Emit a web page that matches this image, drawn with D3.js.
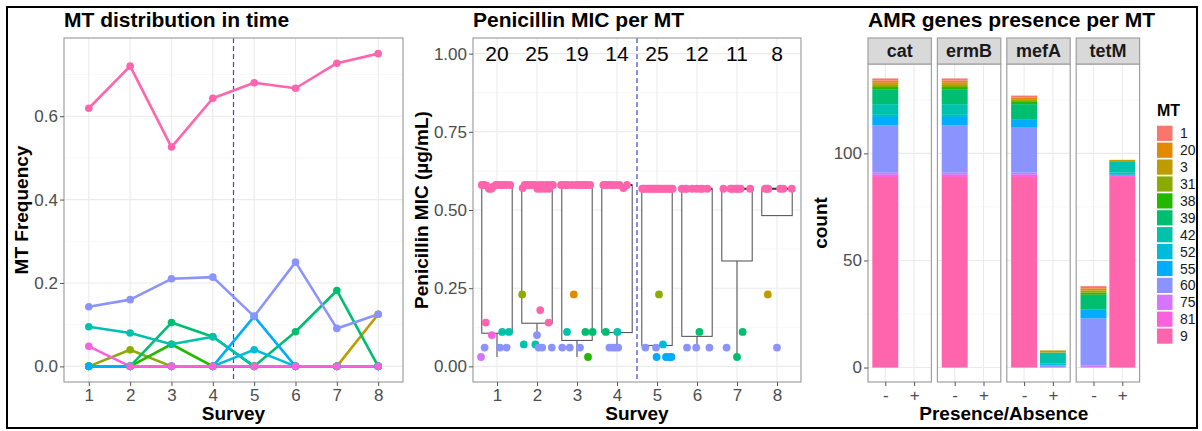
<!DOCTYPE html>
<html><head><meta charset="utf-8">
<script src="https://cdn.jsdelivr.net/npm/d3@7"></script>
<style>body{margin:0;background:#fff} text{font-family:"Liberation Sans",Arial,Helvetica,sans-serif}</style>
</head><body><svg id="c" width="1202" height="431"></svg>
<script>
// ---------- shared ----------
const surveys = [1,2,3,4,5,6,7,8];
const mtLevels = ["1","20","3","31","38","39","42","52","55","60","75","81","9"];
const mtColors = ["#F8766D","#E18A00","#BE9C00","#8CAB00","#24B700","#00BE70","#00C1AB","#00BBDA","#00ACFC","#8B93FF","#D575FE","#F962DD","#FF65AC"];

// ---------- panel 1: MT frequency per survey ----------
const freqMT = ["3","31","38","39","42","52","55","60","81","9"];
const freq3  = [0,0,0,0,0,0,0,0.125];
const freq31 = [0,0.04,0,0,0,0,0,0];
const freq38 = [0,0,0.053,0,0,0,0,0];
const freq39 = [0,0,0.105,0.071,0,0.083,0.182,0];
const freq42 = [0.095,0.08,0.053,0.071,0,0,0,0];
const freq52 = [0,0,0,0,0.04,0,0,0];
const freq55 = [0,0,0,0,0.12,0,0,0];
const freq60 = [0.143,0.16,0.21,0.214,0.12,0.25,0.091,0.125];
const freq81 = [0.048,0,0,0,0,0,0,0];
const freq9  = [0.619,0.72,0.526,0.643,0.68,0.667,0.727,0.75];
const freqTicks = [0,0.2,0.4,0.6];

// ---------- panel 2: penicillin MIC ----------
const nLabels = [20,25,19,14,25,12,11,8];
const micTicks = [0,0.25,0.5,0.75,1.0];
const boxLow  = [0.03,0.10,0.03,0.06,0.06,0.06,0.03,0.482];
const boxQ1   = [0.106,0.138,0.083,0.108,0.067,0.096,0.337,0.482];
const boxMed  = [0.58,0.575,0.58,0.58,0.568,0.568,0.568,0.568];
const boxQ3   = [0.58,0.575,0.58,0.58,0.568,0.568,0.568,0.568];
// low points: [jitter offset, MIC, MT]
const micS1 = [[-0.40,0.03,"75"],[-0.31,0.06,"60"],[-0.28,0.14,"9"],[-0.13,0.10,"81"],[0.075,0.06,"60"],[0.13,0.11,"42"],[0.24,0.06,"60"],[0.30,0.11,"42"]];
const micS2 = [[-0.37,0.23,"31"],[-0.33,0.07,"42"],[-0.04,0.07,"42"],[0,0.10,"60"],[0.08,0.18,"9"],[0.04,0.06,"60"],[0.13,0.06,"60"],[0.29,0.14,"9"],[0.37,0.06,"60"]];
const micS3 = [[-0.37,0.06,"60"],[-0.25,0.11,"42"],[-0.18,0.06,"60"],[-0.08,0.23,"20"],[0.075,0.06,"60"],[0.21,0.11,"39"],[0.275,0.03,"38"],[0.39,0.11,"39"]];
const micS4 = [[-0.28,0.11,"39"],[-0.19,0.06,"60"],[-0.11,0.06,"60"],[-0.04,0.06,"60"],[0.01,0.11,"42"],[0.03,0.06,"60"]];
const micS5 = [[-0.29,0.06,"60"],[-0.025,0.06,"60"],[-0.01,0.03,"55"],[0.05,0.23,"31"],[0.15,0.07,"52"],[0.225,0.03,"55"],[0.31,0.03,"55"],[0.36,0.03,"55"]];
const micS6 = [[-0.25,0.06,"60"],[-0.02,0.06,"60"],[0.06,0.11,"39"],[0.31,0.06,"60"]];
const micS7 = [[-0.26,0.06,"60"],[0,0.03,"39"],[0.14,0.11,"39"]];
const micS8 = [[-0.23,0.23,"3"],[0,0.06,"60"]];
// high (MT 9) points: [jitter offset, MIC]
const topS1 = [[-0.38,0.58],[-0.32,0.58],[-0.26,0.578],[-0.2,0.568],[-0.14,0.568],[-0.09,0.575],[-0.03,0.58],[0.03,0.58],[0.1,0.58],[0.17,0.58],[0.25,0.58],[0.33,0.58]];
const topS2 = [[-0.36,0.57],[-0.31,0.58],[-0.26,0.58],[-0.2,0.58],[-0.15,0.58],[-0.1,0.58],[-0.05,0.58],[0.01,0.568],[0.06,0.58],[0.1,0.568],[0.15,0.58],[0.2,0.568],[0.25,0.58],[0.3,0.568],[0.35,0.58],[0.4,0.58]];
const topS3 = [[-0.4,0.58],[-0.34,0.58],[-0.28,0.58],[-0.22,0.58],[-0.12,0.58],[-0.02,0.58],[0.04,0.58],[0.11,0.58],[0.18,0.58],[0.25,0.58],[0.33,0.58]];
const topS4 = [[-0.34,0.58],[-0.27,0.58],[-0.2,0.58],[-0.12,0.58],[-0.03,0.58],[0.06,0.58],[0.16,0.57],[0.25,0.58]];
const topS5 = [[-0.37,0.568],[-0.33,0.568],[-0.28,0.568],[-0.22,0.568],[-0.18,0.568],[-0.13,0.568],[-0.08,0.568],[-0.04,0.568],[0.01,0.568],[0.06,0.568],[0.1,0.568],[0.15,0.568],[0.2,0.568],[0.25,0.568],[0.3,0.568],[0.34,0.568],[0.39,0.568]];
const topS6 = [[-0.38,0.568],[-0.3,0.568],[-0.26,0.568],[-0.12,0.568],[-0.01,0.568],[0.08,0.568],[0.14,0.568],[0.26,0.568]];
const topS7 = [[-0.34,0.568],[-0.16,0.568],[-0.13,0.568],[-0.05,0.568],[0,0.568],[0.04,0.568],[0.09,0.568],[0.33,0.568]];
const topS8 = [[-0.3,0.568],[-0.25,0.568],[-0.22,0.568],[0.08,0.568],[0.16,0.568],[0.37,0.568]];

// ---------- panel 3: AMR genes ----------
const genes = ["cat","ermB","mefA","tetM"];
const presence = ["-","+"];
const countTicks = [0,50,100];
// counts in mtLevels order
const catNeg  = [1,1,1,1,1,7,5,1,4,22,1,1,89];
const catPos  = [0,0,0,0,0,0,0,0,0,0,0,0,0];
const ermBNeg = [1,1,1,1,1,7,5,1,4,22,1,1,89];
const ermBPos = [0,0,0,0,0,0,0,0,0,0,0,0,0];
const mefANeg = [1,1,0,1,1,7,0,0,4,21,1,1,89];
const mefAPos = [0,0,1,0,0,0,5,1,0,1,0,0,0];
const tetMNeg = [1,1,0,1,1,7,0,0,4,22,1,0,0];
const tetMPos = [0,0,1,0,0,0,5,1,0,0,0,1,89];

// ================= drawing =================
const svg = d3.select("#c");
svg.append("rect").attr("width",1202).attr("height",431).attr("fill","#fff");
const color = d3.scaleOrdinal().domain(mtLevels).range(mtColors);
const TICK = "#4D4D4D", GRIDMAJ = "#EBEBEB", GRIDMIN = "#F4F4F4", BORDER = "#A0A0A0";

function styleAxis(g, size){
  g.select(".domain").remove();
  g.selectAll(".tick line").attr("stroke","#555").attr("stroke-width",1);
  g.selectAll(".tick text").attr("fill",TICK).attr("font-size",size||17)
   .attr("font-family",'"Liberation Sans",Arial,sans-serif');
}
function hGrid(g, y, vals, x0, x1, col, w){
  g.selectAll(null).data(vals).enter().append("line")
   .attr("x1",x0).attr("x2",x1).attr("y1",d=>y(d)).attr("y2",d=>y(d))
   .attr("stroke",col).attr("stroke-width",w);
}
function vGrid(g, x, vals, y0, y1, col, w){
  g.selectAll(null).data(vals).enter().append("line")
   .attr("y1",y0).attr("y2",y1).attr("x1",d=>x(d)).attr("x2",d=>x(d))
   .attr("stroke",col).attr("stroke-width",w);
}
function title(txt, x){
  svg.append("text").attr("x",x).attr("y",27).attr("font-size",21).attr("font-weight","bold")
   .attr("fill","#000").text(txt);
}
function xTitle(txt, cx){
  svg.append("text").attr("x",cx).attr("y",420).attr("text-anchor","middle")
   .attr("font-size",19).attr("font-weight","bold").attr("fill","#000").text(txt);
}
function yTitle(txt, cx, cy){
  svg.append("text").attr("transform",`translate(${cx},${cy}) rotate(-90)`)
   .attr("text-anchor","middle").attr("dy","0.35em")
   .attr("font-size",19).attr("font-weight","bold").attr("fill","#000").text(txt);
}

// ---------- Panel 1 ----------
{
  const x0=64,x1=403,y0=38,y1=382;
  const x = d3.scaleLinear().domain([0.4,8.6]).range([x0,x1]);
  const y = d3.scaleLinear().domain([-0.0375,0.7875]).range([y1,y0]);
  const g = svg.append("g");
  hGrid(g,y,[0.1,0.3,0.5,0.7],x0,x1,GRIDMIN,0.7);
  hGrid(g,y,freqTicks,x0,x1,GRIDMAJ,1.1);
  vGrid(g,x,surveys,y0,y1,GRIDMAJ,1.1);
  g.append("line").attr("x1",x(4.5)).attr("x2",x(4.5)).attr("y1",y0).attr("y2",y1)
   .attr("stroke","#3347E0").attr("stroke-width",1.2).attr("stroke-dasharray","5,3");
  const seriesArr = [freq3,freq31,freq38,freq39,freq42,freq52,freq55,freq60,freq81,freq9];
  const series = freqMT.map((mt,i)=>({mt, vals: seriesArr[i].map((v,j)=>({s:surveys[j], v}))}));
  const line = d3.line().x(d=>x(d.s)).y(d=>y(d.v));
  g.selectAll(".ln").data(series).enter().append("path")
   .attr("d",d=>line(d.vals)).attr("fill","none").attr("stroke",d=>color(d.mt))
   .attr("stroke-width",2.6).attr("stroke-linejoin","round");
  series.forEach(sr=>{
    g.selectAll(null).data(sr.vals).enter().append("circle")
     .attr("cx",d=>x(d.s)).attr("cy",d=>y(d.v)).attr("r",3.8).attr("fill",color(sr.mt));
  });
  g.append("rect").attr("x",x0).attr("y",y0).attr("width",x1-x0).attr("height",y1-y0)
   .attr("fill","none").attr("stroke",BORDER).attr("stroke-width",1.2);
  const ax = svg.append("g").attr("transform",`translate(0,${y1})`)
   .call(d3.axisBottom(x).tickValues(surveys).tickFormat(d3.format("d")).tickSize(4).tickPadding(3));
  styleAxis(ax);
  const ay = svg.append("g").attr("transform",`translate(${x0},0)`)
   .call(d3.axisLeft(y).tickValues(freqTicks).tickFormat(d3.format(".1f")).tickSize(4).tickPadding(2));
  styleAxis(ay);
  title("MT distribution in time", 64);
  xTitle("Survey",(x0+x1)/2);
  yTitle("MT Frequency",21,(y0+y1)/2);
}

// ---------- Panel 2 ----------
{
  const x0=473,x1=801,y0=38,y1=382;
  const x = d3.scaleLinear().domain([0.4,8.6]).range([x0,x1]);
  const y = d3.scaleLinear().domain([-0.05,1.05]).range([y1,y0]);
  const g = svg.append("g");
  hGrid(g,y,[0.125,0.375,0.625,0.875],x0,x1,GRIDMIN,0.7);
  hGrid(g,y,micTicks,x0,x1,GRIDMAJ,1.1);
  vGrid(g,x,surveys,y0,y1,GRIDMAJ,1.1);
  g.append("line").attr("x1",x(4.5)).attr("x2",x(4.5)).attr("y1",y0).attr("y2",y1)
   .attr("stroke","#3347E0").attr("stroke-width",1.2).attr("stroke-dasharray","5,3");
  const hw = 0.38;
  surveys.forEach((s,i)=>{
    g.append("line").attr("x1",x(s)).attr("x2",x(s)).attr("y1",y(boxLow[i])).attr("y2",y(boxQ1[i]))
     .attr("stroke","#4a4a4a").attr("stroke-width",1);
    g.append("rect").attr("x",x(s-hw)).attr("width",x(s+hw)-x(s-hw))
     .attr("y",y(boxQ3[i])).attr("height",y(boxQ1[i])-y(boxQ3[i]))
     .attr("fill","#fff").attr("stroke","#4a4a4a").attr("stroke-width",1);
    g.append("line").attr("x1",x(s-hw)).attr("x2",x(s+hw)).attr("y1",y(boxMed[i])).attr("y2",y(boxMed[i]))
     .attr("stroke","#333").attr("stroke-width",2);
  });
  const lows = [micS1,micS2,micS3,micS4,micS5,micS6,micS7,micS8];
  const tops = [topS1,topS2,topS3,topS4,topS5,topS6,topS7,topS8];
  surveys.forEach((s,i)=>{
    g.selectAll(null).data(tops[i]).enter().append("circle")
     .attr("cx",d=>x(s+d[0])).attr("cy",d=>y(d[1])).attr("r",3.9).attr("fill",color("9"));
    g.selectAll(null).data(lows[i]).enter().append("circle")
     .attr("cx",d=>x(s+d[0])).attr("cy",d=>y(d[1])).attr("r",3.9).attr("fill",d=>color(d[2]));
  });
  g.selectAll(null).data(nLabels).enter().append("text")
   .attr("x",(d,i)=>x(surveys[i])).attr("y",y(1.0)).attr("dy","0.36em").attr("text-anchor","middle")
   .attr("font-size",21).attr("fill","#000").text(d=>d);
  g.append("rect").attr("x",x0).attr("y",y0).attr("width",x1-x0).attr("height",y1-y0)
   .attr("fill","none").attr("stroke",BORDER).attr("stroke-width",1.2);
  const ax = svg.append("g").attr("transform",`translate(0,${y1})`)
   .call(d3.axisBottom(x).tickValues(surveys).tickFormat(d3.format("d")).tickSize(4).tickPadding(3));
  styleAxis(ax);
  const ay = svg.append("g").attr("transform",`translate(${x0},0)`)
   .call(d3.axisLeft(y).tickValues(micTicks).tickFormat(d3.format(".2f")).tickSize(4).tickPadding(2));
  styleAxis(ay);
  title("Penicillin MIC per MT", 473);
  xTitle("Survey",(x0+x1)/2);
  yTitle("Penicillin MIC (µg/mL)",421,(y0+y1)/2);
}

// ---------- Panel 3 ----------
{
  const y0=64,y1=382,sTop=38,pw=63.4,step=69.4,left=868;
  const y = d3.scaleLinear().domain([-6.75,141.75]).range([y1,y0]);
  const countsArr = {cat:[catNeg,catPos], ermB:[ermBNeg,ermBPos], mefA:[mefANeg,mefAPos], tetM:[tetMNeg,tetMPos]};
  const stackKeys = mtLevels.slice().reverse();
  genes.forEach((gene,gi)=>{
    const px0 = left+gi*step, px1 = px0+pw;
    const x = d3.scaleLinear().domain([0.4,2.6]).range([px0,px1]);
    const g = svg.append("g");
    hGrid(g,y,[25,75,125],px0,px1,GRIDMIN,0.7);
    hGrid(g,y,countTicks,px0,px1,GRIDMAJ,1.1);
    vGrid(g,x,[1,2],y0,y1,GRIDMAJ,1.1);
    const rows = presence.map((p,pi)=>{
      const r = {pos:pi+1};
      mtLevels.forEach((mt,k)=>r[mt]=countsArr[gene][pi][k]);
      return r;
    });
    const stacked = d3.stack().keys(stackKeys)(rows);
    stacked.forEach(layer=>{
      g.selectAll(null).data(layer.filter(d=>d[1]-d[0]>0)).enter().append("rect")
       .attr("x",d=>x(d.data.pos-0.45)).attr("width",d=>x(d.data.pos+0.45)-x(d.data.pos-0.45))
       .attr("y",d=>y(d[1])).attr("height",d=>y(d[0])-y(d[1]))
       .attr("fill",color(layer.key));
    });
    g.append("rect").attr("x",px0).attr("y",y0).attr("width",pw).attr("height",y1-y0)
     .attr("fill","none").attr("stroke",BORDER).attr("stroke-width",1.2);
    g.append("rect").attr("x",px0).attr("y",sTop).attr("width",pw).attr("height",y0-sTop)
     .attr("fill","#D9D9D9").attr("stroke",BORDER).attr("stroke-width",1.2);
    g.append("text").attr("x",(px0+px1)/2).attr("y",(sTop+y0)/2).attr("dy","0.36em")
     .attr("text-anchor","middle").attr("font-size",18).attr("font-weight","bold").attr("fill","#1A1A1A").text(gene);
    const ax = svg.append("g").attr("transform",`translate(0,${y1})`)
     .call(d3.axisBottom(x).tickValues([1,2]).tickFormat((d,i)=>presence[i]).tickSize(4).tickPadding(3));
    styleAxis(ax);
  });
  const ay = svg.append("g").attr("transform",`translate(${left},0)`)
   .call(d3.axisLeft(y).tickValues(countTicks).tickFormat(d3.format("d")).tickSize(4).tickPadding(2));
  styleAxis(ay);
  title("AMR genes presence per MT", 868);
  xTitle("Presence/Absence",(left+left+3*step+pw)/2);
  yTitle("count",820,(y0+y1)/2);
  // legend
  const lg = svg.append("g");
  lg.append("text").attr("x",1157).attr("y",116).attr("font-size",16).attr("font-weight","bold").attr("fill","#000").text("MT");
  mtLevels.forEach((mt,i)=>{
    const cy = 133.3 + i*16.9;
    lg.append("rect").attr("x",1157).attr("y",cy-7.6).attr("width",15.5).attr("height",15.2).attr("fill",color(mt));
    lg.append("text").attr("x",1180).attr("y",cy).attr("dy","0.36em").attr("font-size",14).attr("fill","#1A1A1A").text(mt);
  });
}

// outer frame
svg.append("rect").attr("x",7).attr("y",7).attr("width",1190).attr("height",421)
  .attr("fill","none").attr("stroke","#000").attr("stroke-width",2);
</script></body></html>
